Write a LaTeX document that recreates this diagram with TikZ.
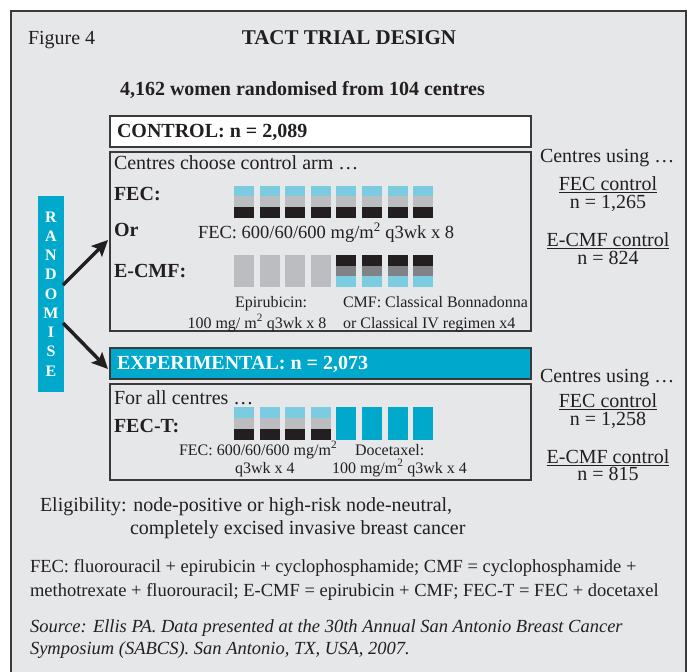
\documentclass[tikz,border=0pt]{standalone}
\usepackage{fontspec}
\setmainfont{Liberation Serif}
\usetikzlibrary{arrows.meta}
\definecolor{bgc}{HTML}{E6E7E8}
\definecolor{ink}{HTML}{231F20}
\definecolor{cyanD}{HTML}{00A8CC}
\definecolor{cyanL}{HTML}{7BCCE0}
\definecolor{grayL}{HTML}{BCBDC0}
\definecolor{grayD}{HTML}{808285}
\definecolor{frame}{HTML}{3A3A3C}
\tikzset{
  txt/.style={anchor=base west, inner sep=0pt, outer sep=0pt, text=ink},
  ctxt/.style={anchor=base, inner sep=0pt, outer sep=0pt, text=ink},
  f20/.style={font=\fontsize{20}{24}\selectfont},
  b20/.style={font=\fontsize{20}{24}\selectfont\bfseries},
  b21/.style={font=\fontsize{21}{25}\selectfont\bfseries},
  f185/.style={font=\fontsize{18.5}{22}\selectfont},
  f16/.style={font=\fontsize{16}{19}\selectfont},
  fit185/.style={font=\fontsize{18.5}{22}\selectfont\itshape},
  armbox/.style={draw=frame, line width=1.2pt},
  uline/.style={draw=ink, line width=1pt},
  arr/.style={draw=ink, line width=3.5pt, -{Stealth[length=16pt,width=15pt,inset=3pt]}},
}
\begin{document}
\begin{tikzpicture}[x=1pt,y=-1pt]
\useasboundingbox (0,0) rectangle (695,671);
\clip (0,0) rectangle (695,671);
% outer frame
\fill[bgc] (11,11) rectangle (686,690);
\draw[frame, line width=1.4pt] (11,690) -- (11,11) -- (686,11) -- (686,690);

% titles
\node[txt, f20] (fig) at (28,45) {Figure 4};
\node[ctxt, b21] (title) at (349,45) {TACT TRIAL DESIGN};
\node[txt, b20] (women) at (120,96) {4,162 women randomised from 104 centres};

% control arm
\draw[armbox, fill=white] (110,116) rectangle (531,147);
\node[txt, b20] (ctrl) at (117,138) {CONTROL: n = 2,089};
\draw[armbox, fill=bgc] (110,152) rectangle (531,331);
\node[txt, f20] (choose) at (114,170) {Centres choose control arm …};
\node[txt, b20] (fec) at (114,200) {FEC:};
\node[txt, b20] (or) at (114,236) {Or};
\node[txt, b20] (ecmf) at (114,277) {E-CMF:};
\node[txt, f185] (fecdose) at (198,238) {FEC: 600/60/600 mg/m\textsuperscript{2} q3wk x 8};
\node[ctxt, f16] (epi1) at (271,307) {Epirubicin:};
\node[ctxt, f16] (epi2) at (257,328) {100 mg/ m\textsuperscript{2} q3wk x 8};
\node[txt, f16] (cmf1) at (343,307) {CMF: Classical Bonnadonna};
\node[txt, f16] (cmf2) at (343,328) {or Classical IV regimen x4};

\foreach \i in {0,...,7}{
  \pgfmathsetmacro\xx{234+25.6*\i}
  \fill[cyanL] (\xx,186) rectangle ++(20,10);
  \fill[grayL] (\xx,196) rectangle ++(20,11);
  \fill[ink]   (\xx,207) rectangle ++(20,11);
}
\foreach \i in {0,...,3}{
  \pgfmathsetmacro\xx{234+25.6*\i}
  \fill[grayL] (\xx,255) rectangle ++(20,32);
}
\foreach \i in {4,...,7}{
  \pgfmathsetmacro\xx{234+25.6*\i}
  \fill[ink]   (\xx,255) rectangle ++(20,10.5);
  \fill[grayD] (\xx,265.5) rectangle ++(20,10.5);
  \fill[cyanL] (\xx,276) rectangle ++(20,11);
}

% experimental arm
\draw[armbox, fill=cyanD] (110,348) rectangle (531,379);
\node[txt, b20, text=white] (expt) at (117,369) {EXPERIMENTAL: n = 2,073};
\draw[armbox, fill=bgc] (110,384) rectangle (531,480);
\node[txt, f20] (allc) at (114,404) {For all centres …};
\node[txt, b20] (fect) at (114,432) {FEC-T:};
\node[txt, f16] (fect1) at (179,455) {FEC: 600/60/600 mg/m\textsuperscript{2}};
\node[txt, f16] (fect2) at (235,473) {q3wk x 4};
\node[txt, f16] (doc1) at (355,455) {Docetaxel:};
\node[txt, f16] (doc2) at (332,473) {100 mg/m\textsuperscript{2} q3wk x 4};
\foreach \i in {0,...,3}{
  \pgfmathsetmacro\xx{234+25.6*\i}
  \fill[cyanL] (\xx,407) rectangle ++(20,11);
  \fill[grayL] (\xx,418) rectangle ++(20,11);
  \fill[ink]   (\xx,429) rectangle ++(20,11);
}
\foreach \i in {4,...,7}{
  \pgfmathsetmacro\xx{234+25.6*\i}
  \fill[cyanD] (\xx,407) rectangle ++(20,33);
}

% randomise
\fill[cyanD] (38,196) rectangle (64,392);
\foreach \l [count=\k from 0] in {R,A,N,D,O,M,I,S,E}{
  \node[inner sep=0pt, text=white, font=\fontsize{16}{18}\selectfont\bfseries] (rl\k) at (51,217+19.25*\k) {\l};
}
\coordinate (a1s) at (63,285);
\coordinate (a1e) at (108,240);
\coordinate (a2s) at (63,323);
\coordinate (a2e) at (108,369);
\draw[arr] (a1s) -- (a1e);
\draw[arr] (a2s) -- (a2e);

% right column
\node[txt, f20] (cu1) at (540,163) {Centres using …};
\node[ctxt, f20] (fc1) at (608,190) {FEC control};
\node[ctxt, f20] (n1) at (608,208) {n = 1,265};
\node[ctxt, f20] (ec1) at (608,246) {E-CMF control};
\node[ctxt, f20] (n2) at (608,264) {n = 824};
\node[txt, f20] (cu2) at (540,382) {Centres using …};
\node[ctxt, f20] (fc2) at (608,407) {FEC control};
\node[ctxt, f20] (n3) at (608,425) {n = 1,258};
\node[ctxt, f20] (ec2) at (608,463) {E-CMF control};
\node[ctxt, f20] (n4) at (608,480) {n = 815};
\foreach \u in {fc1,ec1,fc2,ec2}{
  \draw[uline] ([yshift=-2.5pt]\u.base west) -- ([yshift=-2.5pt]\u.base east);
}

% bottom
\node[txt, f20] (elig1) at (40,511) {Eligibility: node-positive or high-risk node-neutral,};
\node[txt, f20] (elig2) at (130,534) {completely excised invasive breast cancer};
\node[txt, f185] (abb1) at (30,572) {FEC: fluorouracil + epirubicin + cyclophosphamide; CMF = cyclophosphamide +};
\node[txt, f185] (abb2) at (30,596) {methotrexate + fluorouracil; E-CMF = epirubicin + CMF; FEC-T = FEC + docetaxel};
\node[txt, fit185] (src1) at (30,632) {Source: Ellis PA. Data presented at the 30th Annual San Antonio Breast Cancer};
\node[txt, fit185] (src2) at (30,654) {Symposium (SABCS). San Antonio, TX, USA, 2007.};
\end{tikzpicture}
\end{document}
